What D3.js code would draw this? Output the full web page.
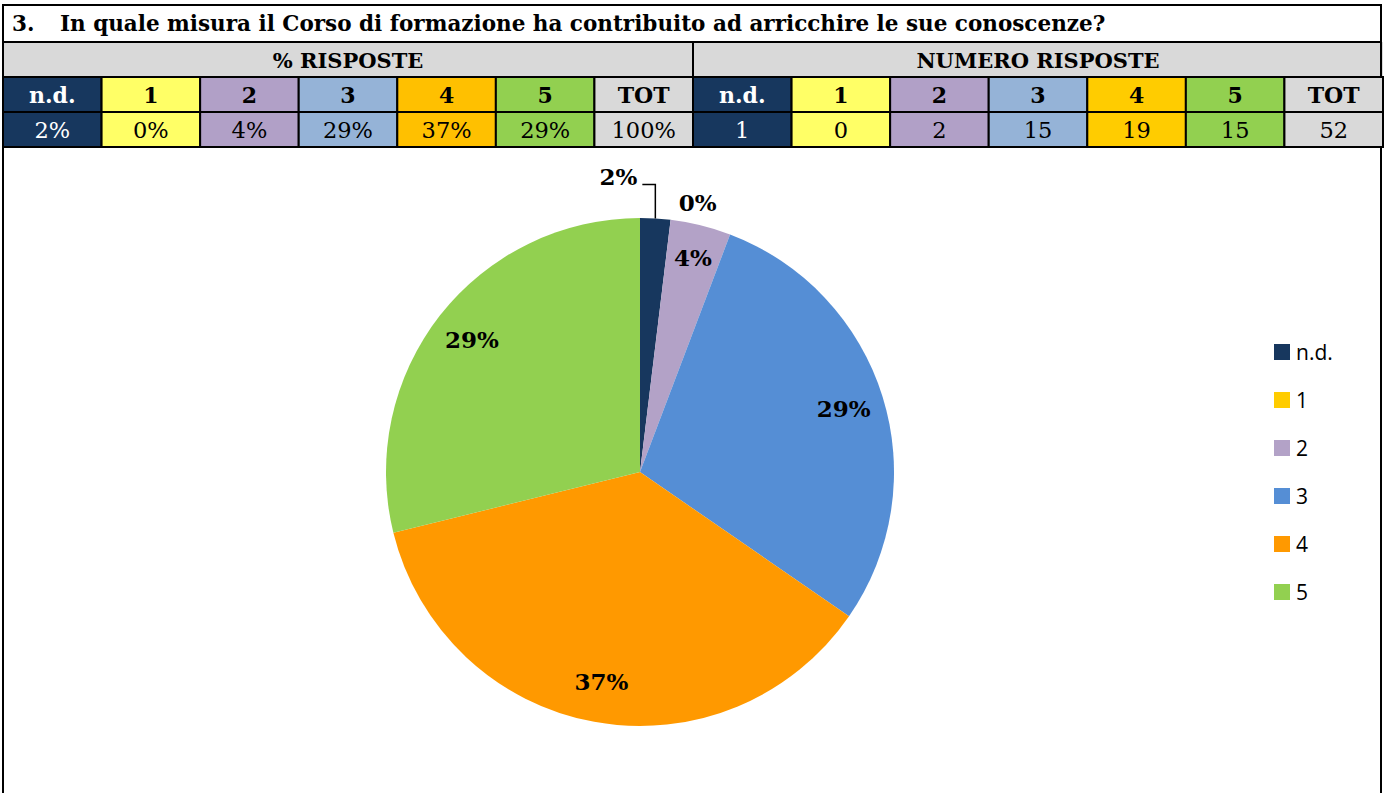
<!DOCTYPE html>
<html>
<head>
<meta charset="utf-8">
<script src="https://cdn.jsdelivr.net/npm/d3@7"></script>
<style>
  html, body { margin: 0; padding: 0; background: #fff; }
  svg { display: block; }
</style>
</head>
<body>
<svg id="chart" width="1386" height="793"></svg>
<script>
// ---------- DATA ----------
const titleNumber = "3.";
const titleText = "In quale misura il Corso di formazione ha contribuito ad arricchire le sue conoscenze?";
const groupHeaders = ["% RISPOSTE", "NUMERO RISPOSTE"];
const categories = ["n.d.", "1", "2", "3", "4", "5"];
const totalLabel = "TOT";
const counts = [1, 0, 2, 15, 19, 15];
const totalCount = 52;
const percentLabels = ["2%", "0%", "4%", "29%", "37%", "29%"];
const totalPercentLabel = "100%";

// ---------- STYLES ----------
const headerFills = ["#17375E", "#FFFF66", "#B1A0C7", "#95B3D7", "#FFC000", "#92D050"];
const headerFills2 = ["#17375E", "#FFFF66", "#B1A0C7", "#95B3D7", "#FFCC00", "#92D050"];
const headerText = ["#FFFFFF", "#000", "#000", "#000", "#000", "#000"];
const totFill = "#D9D9D9";
const pieColors = ["#17375E", "#FFCC00", "#B3A2C7", "#558ED5", "#FF9900", "#92D050"];
const serif = "'DejaVu Serif', 'Liberation Serif', serif";
const sans = "'Open Sans', 'Noto Sans', sans-serif";

const svg = d3.select("#chart");
const W = 1386;
const left = 3, right = 1383;
const yTitleTop = 5, yHead = 42, yCat = 77, yVal = 112, yChart = 147;

svg.append("rect").attr("width", W).attr("height", 793).attr("fill", "#fff");

// ---------- TABLE ----------
const cols = d3.range(14);
const x = d3.scaleBand().domain(cols).range([left, right]).padding(0);

const cellsG = svg.append("g");
cellsG.append("rect").attr("x", left).attr("y", yTitleTop).attr("width", right - left).attr("height", yHead - yTitleTop)
  .attr("fill", "#fff");
svg.append("text").attr("x", 12).attr("y", 31).attr("font-family", serif).attr("font-weight", "bold")
  .attr("font-size", 21.5).attr("fill", "#000").text(titleNumber);
svg.append("text").attr("x", 60).attr("y", 31).attr("font-family", serif).attr("font-weight", "bold")
  .attr("font-size", 21.5).attr("fill", "#000").text(titleText);

groupHeaders.forEach((g, i) => {
  const x0 = x(i * 7), x1 = x(i * 7 + 6) + x.bandwidth();
  cellsG.append("rect").attr("x", x0).attr("y", yHead).attr("width", x1 - x0).attr("height", yCat - yHead)
    .attr("fill", totFill);
  svg.append("text").attr("x", (x0 + x1) / 2).attr("y", yHead + 26).attr("text-anchor", "middle")
    .attr("font-family", serif).attr("font-weight", "bold").attr("font-size", 21).attr("fill", "#000").text(g);
});

const tableCols = [];
for (let g = 0; g < 2; g++) {
  categories.forEach((c, i) => {
    tableCols.push({
      col: g * 7 + i, head: c,
      fill: g === 0 ? headerFills[i] : headerFills2[i],
      textColor: headerText[i],
      value: g === 0 ? percentLabels[i] : String(counts[i])
    });
  });
  tableCols.push({ col: g * 7 + 6, head: totalLabel, fill: totFill, textColor: "#000",
    value: g === 0 ? totalPercentLabel : String(totalCount) });
}

tableCols.forEach(d => {
  [[yCat, yVal, d.head, "bold", 22], [yVal, yChart, d.value, "normal", 22.5]].forEach(([y0, y1, t, w, fs]) => {
    cellsG.append("rect").attr("x", x(d.col)).attr("y", y0).attr("width", x.bandwidth()).attr("height", y1 - y0)
      .attr("fill", d.fill).attr("stroke", "#000").attr("stroke-width", 2);
    svg.append("text").attr("x", x(d.col) + x.bandwidth() / 2).attr("y", y0 + 26).attr("text-anchor", "middle")
      .attr("font-family", serif).attr("font-weight", w).attr("font-size", fs).attr("fill", d.textColor).text(t);
  });
});

const lines = svg.append("g").attr("stroke", "#000").attr("stroke-width", 2).attr("fill", "none");
lines.append("rect").attr("x", left).attr("y", yTitleTop).attr("width", right - left - 2).attr("height", yHead - yTitleTop);
lines.append("rect").attr("x", left).attr("y", yHead).attr("width", right - left - 2).attr("height", yCat - yHead);
lines.append("line").attr("x1", x(7)).attr("x2", x(7)).attr("y1", yHead).attr("y2", yCat);
lines.append("rect").attr("x", left).attr("y", yChart).attr("width", right - left - 2).attr("height", 700);

// ---------- PIE ----------
const cx = 640, cy = 472, R = 254;
const pie = d3.pie().sort(null).value(d => d).startAngle(0).endAngle(2 * Math.PI);
const arcs = pie(counts);
const arc = d3.arc().innerRadius(0).outerRadius(R);
const pg = svg.append("g").attr("transform", `translate(${cx},${cy})`);
pg.selectAll("path").data(arcs).join("path")
  .attr("d", arc).attr("fill", (d, i) => pieColors[i]);

const labelR = R * 0.84;
const polar = (a, r) => [r * Math.sin(a), -r * Math.cos(a)];
arcs.forEach((d, i) => {
  const mid = (d.startAngle + d.endAngle) / 2;
  let pos, anchor = "middle";
  if (i === 0) {
    const p0 = polar(mid, R);
    const elbowY = p0[1] - 34;
    pg.append("polyline")
      .attr("points", [[p0[0], p0[1]], [p0[0], elbowY], [p0[0] - 13, elbowY]].map(p => p.join(",")).join(" "))
      .attr("fill", "none").attr("stroke", "#000").attr("stroke-width", 1.5);
    pos = [p0[0] - 18, elbowY - 8];
    anchor = "end";
  } else if (d.endAngle - d.startAngle === 0) {
    pos = polar(d.startAngle + 0.09, R * 1.085);
  } else {
    pos = polar(mid, i === 2 ? R * 0.87 : labelR);
  }
  pg.append("text").attr("x", pos[0]).attr("y", pos[1]).attr("dy", "0.35em")
    .attr("text-anchor", anchor).attr("font-family", serif).attr("font-weight", "bold")
    .attr("font-size", 23).attr("fill", "#000").text(percentLabels[i]);
});

// ---------- LEGEND ----------
const ly = d3.scalePoint().domain(categories).range([352, 592]);
const lg = svg.append("g");
categories.forEach((c, i) => {
  lg.append("rect").attr("x", 1274).attr("y", ly(c) - 8).attr("width", 16).attr("height", 16).attr("fill", pieColors[i]);
  lg.append("text").attr("x", 1296).attr("y", ly(c)).attr("dy", "0.36em")
    .attr("font-family", sans).attr("font-size", 21).attr("fill", "#000").text(c);
});
</script>
</body>
</html>
